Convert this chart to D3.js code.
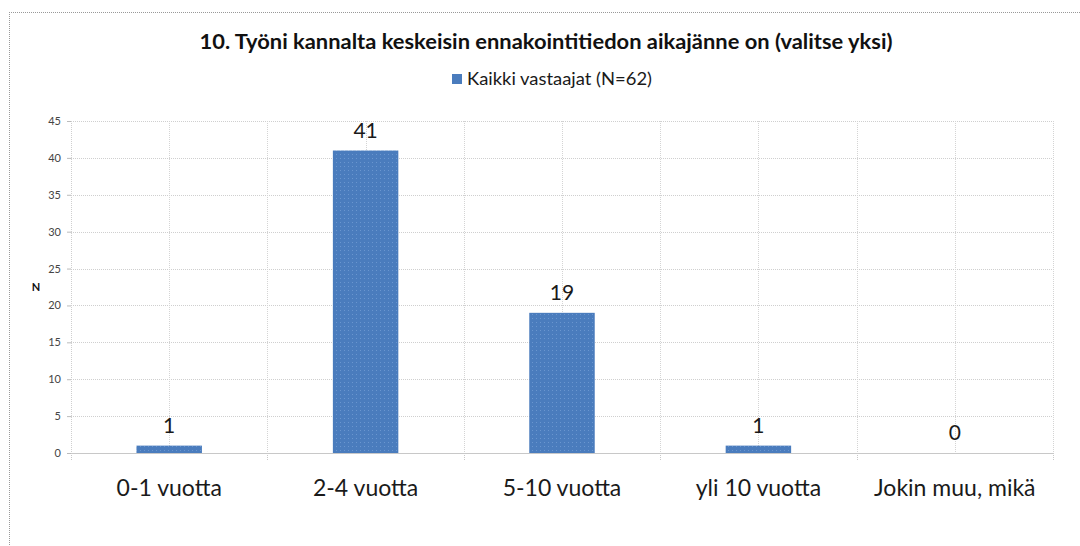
<!DOCTYPE html>
<html lang="fi">
<head>
<meta charset="UTF-8">
<title>Ennakointitiedon aikajänne</title>
<script src="https://d3js.org/d3.v7.min.js"></script>
<style>
  body { margin: 0; background: #fff; }
  svg { display: block; font-family: Lato, "Open Sans", sans-serif; }
</style>
</head>
<body>
<div id="chart"></div>
<script>
// data
const categories = ["0-1 vuotta", "2-4 vuotta", "5-10 vuotta", "yli 10 vuotta", "Jokin muu, mikä"];
const values = [1, 41, 19, 1, 0];
const yTicks = [0, 5, 10, 15, 20, 25, 30, 35, 40, 45];
const title = "10. Työni kannalta keskeisin ennakointitiedon aikajänne on (valitse yksi)";
const seriesName = "Kaikki vastaajat (N=62)";

const width = 1080, height = 546;
const margin = { top: 121, right: 27, bottom: 93, left: 71 };
const iw = width - margin.left - margin.right;
const ih = height - margin.top - margin.bottom;

const svg = d3.select("#chart").append("svg")
    .attr("width", width)
    .attr("height", height);

// bar fill pattern (dotted look)
const defs = svg.append("defs");
const pat = defs.append("pattern")
    .attr("id", "barpat")
    .attr("width", 4).attr("height", 4)
    .attr("patternUnits", "userSpaceOnUse");
pat.append("rect").attr("width", 4).attr("height", 4).attr("fill", "#4a7cbd");
pat.append("rect").attr("x", 1).attr("y", 1).attr("width", 1).attr("height", 1).attr("fill", "#6a96cf");

// outer dotted frame
svg.append("line")
    .attr("x1", 9).attr("x2", width).attr("y1", 12.5).attr("y2", 12.5)
    .attr("stroke", "#999").attr("stroke-dasharray", "1,1");
svg.append("line")
    .attr("x1", 9.5).attr("x2", 9.5).attr("y1", 12).attr("y2", height)
    .attr("stroke", "#999").attr("stroke-dasharray", "1,1");

const g = svg.append("g").attr("transform", `translate(${margin.left},${margin.top})`);

const x = d3.scaleBand().domain(categories).range([0, iw]).paddingInner(0).paddingOuter(0);
const y = d3.scaleLinear().domain([0, 45]).range([ih, 0]);

// horizontal grid
g.append("g")
    .selectAll("line")
    .data(yTicks)
    .join("line")
    .attr("x1", 0).attr("x2", iw)
    .attr("y1", d => Math.round(y(d)) + 0.5).attr("y2", d => Math.round(y(d)) + 0.5)
    .attr("stroke", "#cfcfcf").attr("stroke-dasharray", "1,1");

// vertical grid: category boundaries and centers
const vlines = [];
categories.forEach(c => { vlines.push(x(c)); vlines.push(x(c) + x.bandwidth() / 2); });
vlines.push(iw);
g.append("g")
    .selectAll("line")
    .data(vlines)
    .join("line")
    .attr("x1", d => Math.round(d) + 0.5).attr("x2", d => Math.round(d) + 0.5)
    .attr("y1", 0).attr("y2", ih)
    .attr("stroke", "#d4d4d4").attr("stroke-dasharray", "1,1");

// bars
const bw = x.bandwidth() / 3;
g.append("g")
    .selectAll("rect")
    .data(values)
    .join("rect")
    .attr("x", (d, i) => x(categories[i]) + (x.bandwidth() - bw) / 2)
    .attr("y", d => y(d))
    .attr("width", bw)
    .attr("height", d => ih - y(d))
    .attr("fill", "url(#barpat)");

// value labels
g.append("g")
    .selectAll("text")
    .data(values)
    .join("text")
    .attr("x", (d, i) => x(categories[i]) + x.bandwidth() / 2)
    .attr("y", d => y(d) - 13)
    .attr("text-anchor", "middle")
    .attr("font-size", 21)
    .attr("fill", "#1a1a1a")
    .text(d => d);

// y axis
const yAxis = g.append("g")
    .call(d3.axisLeft(y).tickValues(yTicks).tickSize(4).tickPadding(6));
yAxis.select(".domain").attr("stroke", "#cfcfcf").attr("stroke-dasharray", "1,1");
yAxis.selectAll(".tick line").attr("stroke", "#bbb");
yAxis.selectAll(".tick text").attr("font-size", 11).attr("fill", "#444").attr("font-family", "Lato, sans-serif");

// x axis
const xAxis = g.append("g")
    .attr("transform", `translate(0,${ih})`)
    .call(d3.axisBottom(x).tickSize(0).tickPadding(27));
xAxis.select(".domain").attr("stroke", "#c8c8c8");
xAxis.selectAll(".tick text").attr("font-size", 23).attr("fill", "#1a1a1a").attr("font-family", "Lato, sans-serif");
// boundary tick marks
xAxis.append("g")
    .selectAll("line")
    .data(categories.map(c => x(c)).concat([iw]))
    .join("line")
    .attr("x1", d => Math.round(d) + 0.5).attr("x2", d => Math.round(d) + 0.5)
    .attr("y1", 0).attr("y2", 8)
    .attr("stroke", "#c8c8c8").attr("stroke-dasharray", "1,1");

// y axis title
svg.append("text")
    .attr("x", 36).attr("y", 291)
    .attr("text-anchor", "middle")
    .attr("font-size", 11).attr("font-weight", "bold").attr("fill", "#111")
    .text("N");

// chart title
svg.append("text")
    .attr("x", 546).attr("y", 49)
    .attr("text-anchor", "middle")
    .attr("font-size", 20.5).attr("font-weight", "bold").attr("fill", "#111")
    .attr("textLength", 693).attr("lengthAdjust", "spacingAndGlyphs")
    .text(title);

// legend
const lg = svg.append("g").attr("transform", "translate(452,74)");
lg.append("rect").attr("width", 10).attr("height", 10).attr("fill", "#4a7cbd");
lg.append("text").attr("x", 15).attr("y", 11)
    .attr("font-size", 17.5).attr("fill", "#1a1a1a")
    .attr("textLength", 185).attr("lengthAdjust", "spacingAndGlyphs")
    .text(seriesName);
</script>
</body>
</html>
